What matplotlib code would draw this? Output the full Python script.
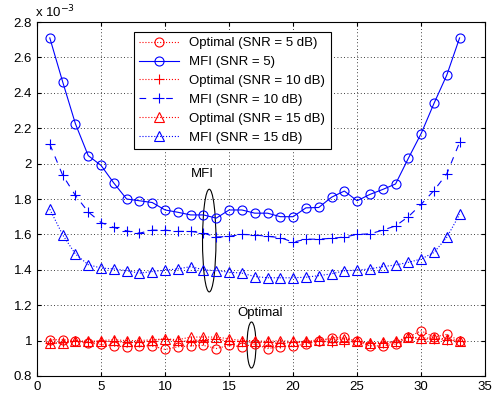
import matplotlib
matplotlib.use("Agg")
import matplotlib.pyplot as plt
from matplotlib.patches import Ellipse

plt.rcParams["font.family"] = ["Liberation Sans", "DejaVu Sans"]

# values in units of 1e-3
x = list(range(1, 34))

opt_5 = [1.005, 1.005, 1.0, 0.987, 0.978, 0.97, 0.965, 0.97, 0.97, 0.95, 0.965, 0.97, 0.973,
         0.955, 0.973, 0.965, 0.98, 0.955, 0.965, 0.97, 0.98, 1.0, 1.015, 1.02, 0.995, 0.97,
         0.97, 0.98, 1.02, 1.055, 1.02, 1.035, 1.0]
mfi_5 = [2.71, 2.463, 2.225, 2.045, 1.99, 1.89, 1.80, 1.79, 1.78, 1.738, 1.725, 1.71, 1.71,
         1.692, 1.738, 1.738, 1.72, 1.72, 1.70, 1.70, 1.75, 1.752, 1.81, 1.845, 1.79, 1.826,
         1.854, 1.885, 2.03, 2.17, 2.34, 2.50, 2.71]
opt_10 = [0.985, 0.99, 1.0, 0.99, 0.995, 0.995, 0.99, 0.99, 1.0, 1.01, 0.995, 1.0, 1.005,
          1.01, 0.995, 0.995, 0.99, 0.99, 0.985, 0.99, 0.99, 1.0, 0.99, 0.99, 0.995, 0.985,
          0.985, 0.99, 1.02, 1.01, 1.01, 1.005, 0.995]
mfi_10 = [2.11, 1.935, 1.82, 1.727, 1.667, 1.639, 1.62, 1.607, 1.624, 1.624, 1.617, 1.617,
          1.607, 1.585, 1.589, 1.60, 1.597, 1.589, 1.582, 1.556, 1.573, 1.573, 1.578, 1.585,
          1.60, 1.603, 1.624, 1.648, 1.70, 1.77, 1.848, 1.942, 2.12]
opt_15 = [0.985, 0.985, 1.0, 0.995, 1.0, 1.005, 1.0, 1.0, 1.005, 1.01, 1.005, 1.02, 1.02,
          1.02, 1.01, 1.0, 1.0, 0.995, 1.0, 0.995, 0.995, 1.005, 1.005, 1.01, 0.995, 0.985,
          0.99, 0.995, 1.02, 1.015, 1.015, 1.01, 1.0]
mfi_15 = [1.742, 1.598, 1.489, 1.429, 1.41, 1.405, 1.395, 1.381, 1.39, 1.398, 1.405, 1.418,
          1.40, 1.395, 1.387, 1.381, 1.362, 1.355, 1.355, 1.355, 1.358, 1.367, 1.377, 1.395,
          1.398, 1.405, 1.418, 1.427, 1.442, 1.461, 1.498, 1.583, 1.713]

fig = plt.figure(figsize=(4.98, 3.98), dpi=100)
ax = fig.add_axes([0.0743, 0.0553, 0.9, 0.8894])

kw = dict(markerfacecolor="none", markersize=6.5, linewidth=0.8, markeredgewidth=0.8)
ax.plot(x, opt_5, ":o", color="red", label="Optimal (SNR = 5 dB)", **kw)
ax.plot(x, mfi_5, "-o", color="blue", label="MFI (SNR = 5)", **kw)
ax.plot(x, opt_10, ":+", color="red", label="Optimal (SNR = 10 dB)", **kw)
ax.plot(x, mfi_10, "--+", color="blue", label="MFI (SNR = 10 dB)", dashes=(6, 6), **kw)
ax.plot(x, opt_15, ":^", color="red", label="Optimal (SNR = 15 dB)", **kw)
ax.plot(x, mfi_15, ":^", color="blue", label="MFI (SNR = 15 dB)", **kw)

ax.add_patch(Ellipse((13.45, 1.565), 1.05, 0.58, fill=False, color="black", linewidth=0.8))
ax.add_patch(Ellipse((16.75, 0.975), 0.7, 0.26, fill=False, color="black", linewidth=0.8))
ax.text(12.9, 1.94, "MFI", fontsize=9.5, ha="center", va="center")
ax.text(17.4, 1.155, "Optimal", fontsize=9.5, ha="center", va="center")

ax.set_xlim(0, 35)
ax.set_ylim(0.8, 2.8)
ax.set_xticks(range(0, 36, 5))
yt = [0.8, 1.0, 1.2, 1.4, 1.6, 1.8, 2.0, 2.2, 2.4, 2.6, 2.8]
ax.set_yticks(yt)
ax.set_yticklabels(["0.8", "1", "1.2", "1.4", "1.6", "1.8", "2", "2.2", "2.4", "2.6", "2.8"])
ax.tick_params(direction="in", top=True, right=True, labelsize=9.5, length=3)
ax.grid(True, linestyle=(0, (1, 3)), color="black", linewidth=0.6)
ax.text(-0.005, 1.005, r"x 10$^{-3}$", transform=ax.transAxes, fontsize=9.5,
        ha="left", va="bottom")

leg = ax.legend(loc="upper left", bbox_to_anchor=(0.2165, 0.972), borderaxespad=0,
                fontsize=9.5, handlelength=3, labelspacing=0.5, fancybox=False,
                framealpha=1, edgecolor="black")
leg.get_frame().set_linewidth(0.8)

fig.savefig("out.png", dpi=100)
